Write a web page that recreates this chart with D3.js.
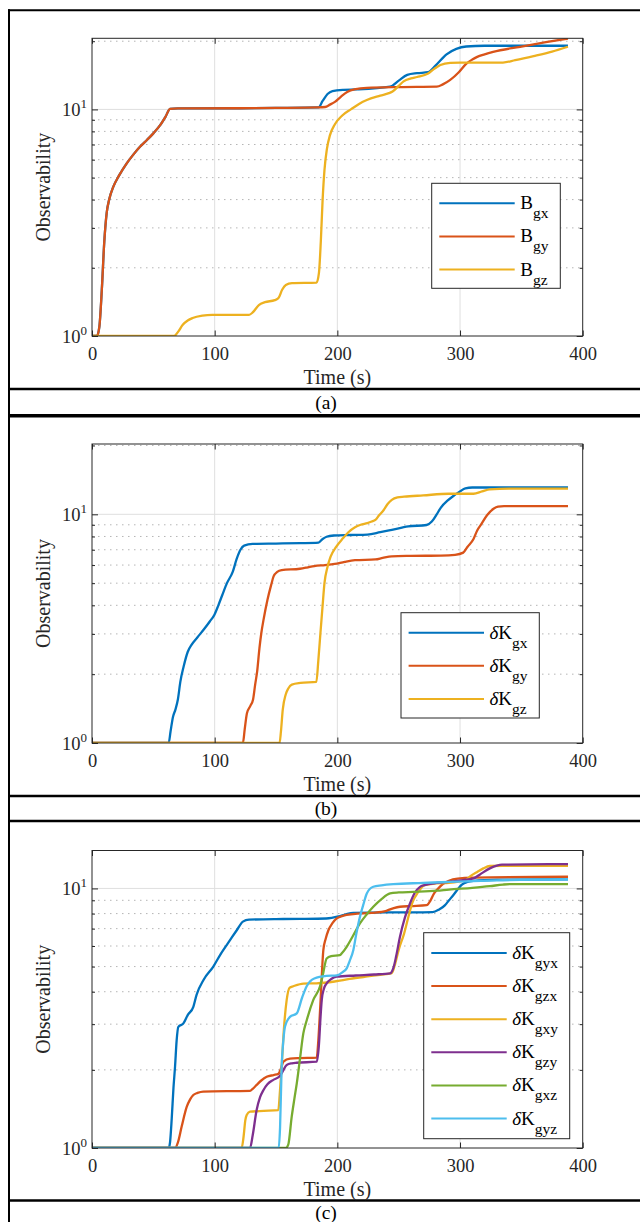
<!DOCTYPE html>
<html>
<head>
<meta charset="utf-8">
<script src="https://cdn.jsdelivr.net/npm/d3@7"></script>
<style>
  body { margin: 0; background: #fff; }
  svg { display: block; }
  svg text { font-family: 'Liberation Serif', 'Times New Roman', 'DejaVu Serif', serif !important; }
</style>
</head>
<body>
<svg></svg>
<script>
// ---- data (time in s, observability) ----
const xTicks = [0, 100, 200, 300, 400]
const yMajor = [1, 10]
const yMinor = [2, 3, 4, 5, 6, 7, 8, 9, 20]

// panel (a)
const Bgx = [[0,1],[4,1],[6,1.1],[8,1.6],[10,2.6],[12,3.5],[14,4.0],[17.4,4.56],[22,5.1],[28.3,5.78],[34,6.35],[39.1,6.84],[45,7.35],[50,7.84],[55.4,8.5],[60,9.3],[63.6,10.05],[70,10.1],[120,10.12],[150,10.15],[184.5,10.2],[188,10.9],[192,11.7],[196,12.05],[205,12.2],[216,12.25],[243,12.6],[250,13.4],[257,14.2],[265,14.45],[274,14.6],[280,15.6],[289,17.5],[297,18.5],[305,18.95],[320,19.1],[388,19.1]]
const Bgy = [[0,1],[4,1],[6,1.1],[8,1.6],[10,2.6],[12,3.5],[14,4.0],[17.4,4.56],[22,5.1],[28.3,5.78],[34,6.35],[39.1,6.84],[45,7.35],[50,7.84],[55.4,8.5],[60,9.3],[63.6,10.05],[70,10.1],[120,10.12],[150,10.15],[184.5,10.2],[190,10.25],[194,10.5],[198,10.8],[203,11.4],[208,11.95],[215,12.3],[224,12.45],[250,12.55],[281,12.6],[286,12.9],[292,13.5],[299,14.6],[305,15.9],[310,16.6],[314,17.05],[320,17.5],[327,17.95],[349,18.9],[370,19.8],[388,20.56]]
const Bgz = [[0,1],[67,1],[70,1.04],[74,1.12],[78,1.17],[82,1.2],[90,1.23],[98,1.24],[128,1.24],[131,1.27],[136,1.37],[141,1.41],[149,1.44],[152,1.47],[155,1.6],[158,1.68],[163,1.71],[183,1.72],[185,1.9],[186.5,2.6],[188,4.0],[189.5,5.4],[191.5,6.7],[194,7.7],[198,8.6],[204,9.4],[211,10.0],[218,10.6],[224,11.0],[235,11.5],[242,11.8],[245,12.0],[250,12.7],[254,13.3],[260,13.7],[265,13.9],[274,14.4],[279,15.1],[284,15.7],[292,16.05],[300,16.1],[335,16.1],[345,16.5],[360,17.2],[375,18.0],[388,18.9]]

// panel (b)
const dKgx = [[0,1],[62.5,1],[64,1.12],[66,1.3],[68,1.4],[70,1.55],[72,1.85],[74.7,2.16],[78,2.5],[81.4,2.7],[86,2.9],[91.4,3.15],[96,3.4],[99.7,3.63],[103,4.0],[106.3,4.45],[110,5.0],[114.7,5.6],[118,6.4],[121,7.0],[124,7.3],[131,7.42],[150,7.45],[170,7.48],[184.6,7.52],[188,7.8],[191.2,7.98],[197,8.08],[210,8.12],[224.5,8.15],[235,8.35],[244.4,8.55],[257.8,8.85],[272.7,8.98],[277,9.3],[281,10.0],[284.4,10.7],[290,11.5],[294.3,12.0],[300,12.6],[304.3,13.0],[310,13.1],[388,13.1]]
const dKgy = [[0,1],[123,1],[124.5,1.15],[126.3,1.35],[129,1.45],[131.3,1.55],[133,1.8],[134.6,2.05],[136.5,2.6],[138,3.02],[140,3.5],[143,4.22],[146,4.9],[148,5.35],[151,5.6],[154.6,5.7],[169.5,5.78],[175,5.85],[181.2,5.94],[190,6.0],[197.8,6.07],[206,6.2],[214.4,6.3],[231,6.35],[237,6.45],[244.4,6.55],[260,6.58],[284.4,6.6],[296,6.65],[302.6,6.8],[306,7.2],[311,7.8],[314,8.5],[317.6,9.1],[322,9.9],[327.6,10.6],[331,10.8],[335.9,10.87],[388,10.87]]
const dKgz = [[0,1],[152.9,1],[154,1.12],[155.5,1.4],[157.9,1.63],[160,1.73],[162.9,1.8],[170,1.83],[182.9,1.85],[184.5,2.3],[186.2,3.02],[188,4.0],[189.5,5.0],[192,5.9],[194.5,6.53],[199,7.2],[204.5,7.85],[209,8.35],[214.4,8.78],[219,9.0],[224.5,9.16],[228,9.3],[231,9.45],[234,9.9],[237.8,10.45],[241,11.1],[244.4,11.57],[249,11.85],[254.4,11.94],[270,12.1],[291,12.3],[311,12.3],[318,12.6],[324.3,12.86],[340,12.95],[388,12.95]]

// panel (c)
const dKgyx = [[0,1],[62.5,1],[63.6,1.05],[65,1.3],[66.4,1.7],[67.7,2.06],[69,2.6],[70.4,2.93],[74.5,3.02],[78,3.25],[82.6,3.5],[85.3,3.9],[91,4.45],[98.9,5.0],[105,5.6],[112.5,6.32],[118,6.9],[123,7.45],[128,7.58],[150,7.62],[170,7.63],[191,7.66],[201,7.8],[207,7.95],[213,8.05],[240,8.08],[262,8.08],[277.6,8.1],[283,8.3],[287.6,8.6],[291,9.0],[294.3,9.4],[298,9.9],[301,10.3],[306,10.6],[311,10.7],[330,10.8],[388,10.85]]
const dKgzx = [[0,1],[67.7,1],[70,1.05],[73.1,1.21],[77.2,1.44],[80,1.54],[82.6,1.6],[86,1.63],[90.7,1.65],[128.8,1.66],[131,1.69],[134.2,1.75],[138,1.82],[142.4,1.88],[148,1.91],[151.9,1.93],[154,2.02],[156,2.15],[161.4,2.21],[170,2.22],[183.2,2.23],[184.5,2.6],[186.2,3.6],[188.6,5.8],[190.5,6.4],[192.7,6.9],[196,7.35],[199.5,7.66],[205,7.85],[213,7.96],[228,8.05],[240,8.2],[246,8.4],[251,8.5],[260,8.55],[272.8,8.62],[276,9.0],[279,9.6],[281,9.85],[286,10.4],[291,10.7],[298,10.9],[311,11.0],[388,11.09]]
const dKgxy = [[0,1],[122,1],[123.5,1.1],[125,1.28],[126.1,1.34],[128.8,1.38],[140,1.39],[151.9,1.4],[153,1.6],[154.6,2.06],[156.5,2.9],[158.7,3.72],[161.2,4.15],[164.1,4.2],[172.3,4.3],[182.9,4.31],[197.8,4.38],[210,4.48],[224.5,4.58],[235,4.65],[244.4,4.72],[247,5.1],[250,5.8],[254.4,6.7],[258,7.8],[261.1,8.8],[266,9.7],[271,10.3],[280,10.45],[291,10.5],[304.3,10.75],[309,11.2],[314.3,11.6],[319,11.95],[324.3,12.2],[335,12.23],[388,12.23]]
const dKgzy = [[0,1],[128.8,1],[131,1.12],[134.2,1.4],[137,1.57],[139.7,1.67],[143,1.76],[147.8,1.83],[152.9,1.89],[154.6,1.94],[158.7,2.09],[163,2.12],[166.9,2.13],[183.2,2.15],[185,2.5],[186.3,3.2],[187.3,3.72],[189,4.1],[191.3,4.31],[195,4.48],[199.5,4.57],[215,4.62],[230,4.66],[243,4.71],[246,5.0],[248,5.5],[251,6.5],[255,7.7],[259.2,8.75],[263,9.6],[267.4,10.14],[271,10.3],[281,10.5],[291,10.6],[305,10.8],[311,10.93],[316,11.3],[324.3,11.95],[330,12.25],[334.2,12.35],[388,12.41]]
const dKgxz = [[0,1],[157.9,1],[160,1.03],[162.8,1.32],[165,1.55],[166.9,1.77],[169.5,2.2],[172.3,2.77],[175,3.1],[180.4,3.72],[185.9,4.2],[188,4.6],[191.3,5.37],[195,5.48],[202,5.53],[204,5.65],[207.6,5.96],[213,6.6],[218.4,7.33],[224,7.95],[229.3,8.5],[236,9.1],[243,9.57],[250,9.65],[262,9.7],[281,9.8],[291,9.9],[310,10.05],[324.3,10.2],[335,10.35],[341,10.39],[388,10.39]]
const dKgyz = [[0,1],[152.2,1],[153.3,1.2],[154.6,2.06],[156,2.6],[157.3,2.93],[161.4,3.2],[166.9,3.3],[171.3,3.8],[175,4.2],[181.2,4.5],[191.2,4.6],[199.5,4.62],[204,4.75],[207.6,4.92],[210,5.25],[213,5.78],[215.5,6.7],[218.4,7.77],[221,8.6],[224,9.57],[229.3,10.15],[236,10.28],[245.6,10.39],[270,10.5],[291,10.6],[330,10.75],[388,10.85]]

const colors = ['#0072BD', '#D95319', '#EDB120', '#7E2F8E', '#77AC30', '#4DBEEE']
const ink = '#262626'

// ---- layout ----
const W = 640
const H = 1222
const left = 92
const right = 582.7

const panels = [
  { top: 38.3, bottom: 336, yMax: 20.6, caption: '(a)', capY: 408.5,
    series: [['B', 'gx', Bgx], ['B', 'gy', Bgy], ['B', 'gz', Bgz]],
    legend: { x: 431.7, y: 183.3, w: 128.6, h: 105, row0: 203.3 } },
  { top: 444, bottom: 743, yMax: 20.3, caption: '(b)', capY: 814.5,
    series: [['δ', 'gx', dKgx], ['δ', 'gy', dKgy], ['δ', 'gz', dKgz]],
    legend: { x: 401, y: 612.7, w: 138.3, h: 105.3, row0: 632.7 } },
  { top: 850.5, bottom: 1148, yMax: 14, caption: '(c)', capY: 1218.5,
    series: [['δ', 'gyx', dKgyx], ['δ', 'gzx', dKgzx], ['δ', 'gxy', dKgxy],
             ['δ', 'gzy', dKgzy], ['δ', 'gxz', dKgxz], ['δ', 'gyz', dKgyz]],
    legend: { x: 423.7, y: 932.7, w: 146, h: 206, row0: 953 } }
]

const svg = d3.select('svg').attr('width', W).attr('height', H)
svg.append('rect').attr('width', W).attr('height', H).attr('fill', '#fff')

// table frame around the three sub-figures
const hRules = [[10.3, 2], [389, 2.5], [415.7, 3.5], [796, 2.3], [821, 2.3], [1200.5, 2.3]]
hRules.forEach(([y, w]) => {
  svg.append('line').attr('x1', 8).attr('x2', W).attr('y1', y).attr('y2', y)
    .attr('stroke', '#000').attr('stroke-width', w)
})
svg.append('line').attr('x1', 9).attr('x2', 9).attr('y1', 9.3).attr('y2', H)
  .attr('stroke', '#000').attr('stroke-width', 2)

function drawPanel (p, idx) {
  const g = svg.append('g')
  const x = d3.scaleLinear().domain([0, 400]).range([left, right])
  const y = d3.scaleLog().domain([1, p.yMax]).range([p.bottom, p.top])
  const minor = yMinor.filter(v => v < p.yMax)

  // grid
  g.append('g').selectAll('line').data(xTicks.slice(1, -1)).join('line')
    .attr('x1', d => x(d)).attr('x2', d => x(d)).attr('y1', p.top).attr('y2', p.bottom)
    .attr('stroke', '#dfdfdf').attr('stroke-width', 1)
  g.append('g').selectAll('line').data(minor).join('line')
    .attr('x1', left).attr('x2', right).attr('y1', d => y(d)).attr('y2', d => y(d))
    .attr('stroke', '#b5b5b5').attr('stroke-width', 1).attr('stroke-dasharray', '1.5,4.5')
  g.append('line').attr('x1', left).attr('x2', right).attr('y1', y(10)).attr('y2', y(10))
    .attr('stroke', '#dfdfdf').attr('stroke-width', 1)

  // curves
  const clipId = 'clip' + idx
  g.append('clipPath').attr('id', clipId).append('rect')
    .attr('x', left).attr('y', p.top).attr('width', right - left).attr('height', p.bottom - p.top)
  const line = d3.line().x(d => x(d[0])).y(d => y(d[1])).curve(d3.curveMonotoneX)
  p.series.forEach((s, i) => {
    g.append('path').datum(s[2]).attr('d', line)
      .attr('fill', 'none').attr('stroke', colors[i]).attr('stroke-width', 2.3)
      .attr('clip-path', `url(#${clipId})`)
  })

  // box and ticks
  g.append('rect').attr('x', left).attr('y', p.top)
    .attr('width', right - left).attr('height', p.bottom - p.top)
    .attr('fill', 'none').attr('stroke', ink).attr('stroke-width', 1)

  const ax = g.append('g').attr('transform', `translate(0,${p.bottom})`)
    .call(d3.axisBottom(x).tickValues(xTicks).tickSizeInner(-5.5).tickSizeOuter(0).tickPadding(10.5))
  ax.attr('font-size', 18.5)
  ax.select('.domain').remove()
  ax.selectAll('line').attr('stroke', ink)
  ax.selectAll('text').attr('fill', ink)

  const axTop = g.append('g').attr('transform', `translate(0,${p.top})`)
    .call(d3.axisTop(x).tickValues(xTicks).tickSizeInner(-5.5).tickSizeOuter(0).tickFormat(''))
  axTop.select('.domain').remove()
  axTop.selectAll('line').attr('stroke', ink)

  const yAxes = [
    [d3.axisLeft, left, yMajor, -6], [d3.axisLeft, left, minor, -3],
    [d3.axisRight, right, yMajor, -6], [d3.axisRight, right, minor, -3]
  ]
  yAxes.forEach(([fn, pos, vals, size]) => {
    const a = g.append('g').attr('transform', `translate(${pos},0)`)
      .call(fn(y).tickValues(vals).tickSizeInner(size).tickSizeOuter(0).tickFormat(''))
    a.select('.domain').remove()
    a.selectAll('line').attr('stroke', ink)
  })

  // 10^n tick labels
  yMajor.forEach(v => {
    const t = g.append('text').attr('x', 87).attr('y', y(v) + 7)
      .attr('text-anchor', 'end').attr('fill', ink)
    t.append('tspan').attr('font-size', 18.5).text('10')
    t.append('tspan').attr('font-size', 13).attr('dy', -8.5).text(Math.round(Math.log10(v)))
  })

  // axis labels
  g.append('text').attr('x', (left + right) / 2).attr('y', p.bottom + 48)
    .attr('text-anchor', 'middle').attr('font-size', 20)
    .attr('fill', ink).text('Time (s)')
  g.append('text')
    .attr('transform', `translate(50,${(p.top + p.bottom) / 2}) rotate(-90)`)
    .attr('text-anchor', 'middle').attr('font-size', 20)
    .attr('fill', ink).text('Observability')

  // legend
  const L = p.legend
  const lg = g.append('g')
  lg.append('rect').attr('x', L.x).attr('y', L.y).attr('width', L.w).attr('height', L.h)
    .attr('fill', '#fff').attr('stroke', ink).attr('stroke-width', 1)
  p.series.forEach((s, i) => {
    const ry = L.row0 + i * 33.1
    lg.append('line').attr('x1', L.x + 7.6).attr('x2', L.x + 83)
      .attr('y1', ry).attr('y2', ry).attr('stroke', colors[i]).attr('stroke-width', 2)
    const t = lg.append('text').attr('x', L.x + 88.5).attr('y', ry + 6).attr('fill', '#000')
    if (s[0] === 'B') {
      t.append('tspan').attr('font-size', 19).text('B')
    } else {
      t.append('tspan').attr('font-size', 19).attr('font-style', 'italic').text('δ')
      t.append('tspan').attr('font-size', 19).text('K')
    }
    t.append('tspan').attr('font-size', 15.5).attr('dy', 9).text(s[1])
  })

  // caption
  svg.append('text').attr('x', 326).attr('y', p.capY).attr('text-anchor', 'middle')
    .attr('font-size', 19.5).attr('fill', '#000').text(p.caption)
}

panels.forEach(drawPanel)
</script>
</body>
</html>
